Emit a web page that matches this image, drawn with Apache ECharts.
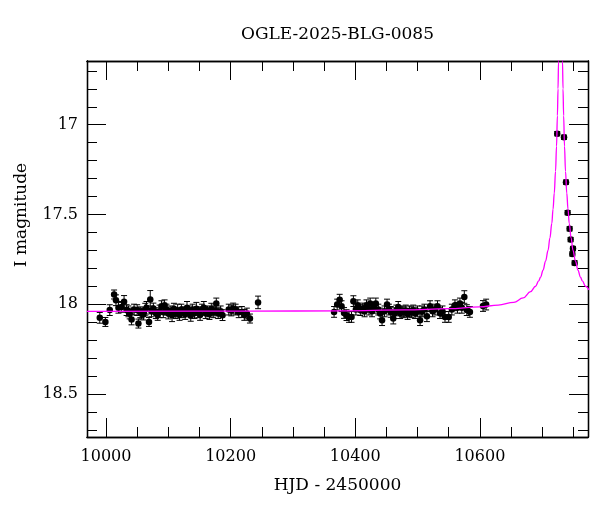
<!DOCTYPE html>
<html>
<head>
<meta charset="utf-8">
<script src="https://cdn.jsdelivr.net/npm/echarts@6/dist/echarts.min.js"></script>
<style>html,body{margin:0;padding:0;background:#fff}#c{width:600px;height:512px}</style>
</head>
<body>
<div id="c"></div>
<script>
// ---- data ----
const titleText = 'OGLE-2025-BLG-0085';
const xAxisTitle = 'HJD - 2450000';
const yAxisTitle = 'I magnitude';

const xMajorTicks = [10000, 10200, 10400, 10600];
const xMinorTicks = [10050, 10100, 10150, 10250, 10300, 10350, 10450, 10500, 10550, 10650, 10700, 10750];
const yMajorTicks = [17, 17.5, 18, 18.5];
const yMinorTicks = [16.7, 16.8, 16.9, 17.1, 17.2, 17.3, 17.4, 17.6, 17.7, 17.8, 17.9, 18.1, 18.2, 18.3, 18.4, 18.6, 18.7];

const obsTime = [
  9990, 9999, 10006, 10013, 10016, 10020, 10025, 10029, 10033, 10036,
  10038, 10041, 10045, 10050, 10052, 10055, 10057, 10060, 10063, 10065,
  10069, 10071, 10073, 10076, 10080, 10083, 10086, 10089, 10092, 10094,
  10097, 10100, 10103, 10106, 10109, 10112, 10115, 10118, 10121, 10124,
  10127, 10130, 10133, 10136, 10139, 10142, 10145, 10148, 10151, 10154,
  10157, 10160, 10163, 10166, 10169, 10172, 10175, 10177, 10180, 10184,
  10187, 10197, 10201, 10204, 10208, 10213, 10218, 10222, 10226, 10231,
  10244,
  10366, 10371, 10375, 10378, 10382, 10386, 10390, 10394, 10397, 10401,
  10404, 10408, 10412, 10415, 10418, 10422, 10424, 10427, 10430, 10433,
  10437, 10440, 10443, 10447, 10451, 10454, 10457, 10461, 10463, 10466,
  10469, 10472, 10475, 10478, 10481, 10484, 10487, 10490, 10493, 10496,
  10500, 10504, 10507, 10511, 10515, 10520, 10524, 10528, 10532, 10536,
  10540, 10544, 10550, 10555, 10560, 10564, 10568, 10571, 10575, 10579,
  10584, 10605, 10610,
  10724.1, 10735, 10738.2, 10740.8, 10744, 10745.6, 10748.3, 10749.4, 10752
];
const obsMag = [
  18.076, 18.099, 18.033, 17.946, 17.978, 18.020, 18.015, 17.987, 18.033, 18.040,
  18.052, 18.085, 18.030, 18.033, 18.108, 18.045, 18.052, 18.058, 18.030, 18.020,
  18.099, 17.974, 18.040, 18.024, 18.050, 18.060, 18.040, 18.011, 18.045, 18.006,
  18.030, 18.052, 18.040, 18.062, 18.025, 18.050, 18.035, 18.060, 18.030, 18.045,
  18.055, 18.020, 18.040, 18.065, 18.030, 18.050, 18.025, 18.045, 18.060, 18.030,
  18.020, 18.050, 18.040, 18.055, 18.025, 18.045, 18.035, 17.996, 18.050, 18.040,
  18.061, 18.030, 18.035, 18.024, 18.030, 18.045, 18.043, 18.060, 18.052, 18.080,
  17.990,
  18.043, 18.002, 17.975, 18.011, 18.049, 18.061, 18.071, 18.071, 17.983, 18.030,
  18.006, 18.033, 18.024, 18.040, 18.006, 18.030, 17.996, 18.040, 18.020, 17.996,
  18.030, 18.052, 18.089, 18.040, 18.002, 18.030, 18.043, 18.080, 18.050, 18.035,
  18.015, 18.050, 18.040, 18.045, 18.035, 18.055, 18.040, 18.045, 18.035, 18.050,
  18.040, 18.089, 18.040, 18.030, 18.067, 18.011, 18.040, 18.030, 18.011, 18.050,
  18.040, 18.071, 18.071, 18.030, 18.006, 18.020, 17.996, 18.020, 17.960, 18.033,
  18.043, 18.010, 18.002,
  17.050, 17.070, 17.320, 17.490, 17.580, 17.640, 17.720, 17.690, 17.770
];
const obsErr = [
  0.030, 0.025, 0.030, 0.025, 0.030, 0.030, 0.030, 0.035, 0.030, 0.030,
  0.030, 0.030, 0.030, 0.030, 0.025, 0.030, 0.030, 0.030, 0.035, 0.035,
  0.025, 0.050, 0.030, 0.030, 0.030, 0.030, 0.035, 0.030, 0.030, 0.030,
  0.030, 0.030, 0.030, 0.035, 0.030, 0.030, 0.035, 0.030, 0.030, 0.030,
  0.030, 0.035, 0.030, 0.030, 0.030, 0.030, 0.035, 0.030, 0.030, 0.030,
  0.035, 0.030, 0.030, 0.030, 0.030, 0.030, 0.030, 0.030, 0.030, 0.030,
  0.030, 0.030, 0.030, 0.030, 0.030, 0.030, 0.030, 0.030, 0.030, 0.025,
  0.035,
  0.030, 0.030, 0.030, 0.030, 0.030, 0.030, 0.030, 0.030, 0.030, 0.030,
  0.030, 0.030, 0.030, 0.030, 0.030, 0.030, 0.030, 0.030, 0.030, 0.030,
  0.030, 0.030, 0.030, 0.030, 0.030, 0.030, 0.030, 0.030, 0.030, 0.030,
  0.030, 0.030, 0.030, 0.030, 0.030, 0.030, 0.030, 0.030, 0.030, 0.030,
  0.030, 0.030, 0.030, 0.030, 0.030, 0.030, 0.030, 0.030, 0.030, 0.030,
  0.030, 0.030, 0.030, 0.030, 0.030, 0.030, 0.030, 0.030, 0.035, 0.030,
  0.030, 0.030, 0.030,
  0.012, 0.012, 0.012, 0.012, 0.012, 0.012, 0.012, 0.012, 0.012
];

const modelTime = [
  9969.4, 10229.4, 10379.4, 10479.4, 10549.4, 10599.4, 10629.4, 10654.4, 10669.4, 10681.4,
  10689.4, 10694.4, 10697.4, 10701.4, 10705.4, 10709.4, 10712.4, 10715.4, 10717.4, 10719.4,
  10721.4, 10723.0, 10724.4, 10725.4, 10726.2, 10727.4, 10728.4, 10729.4, 10730.4, 10731.4,
  10732.6, 10733.4, 10734.4, 10735.8, 10737.4, 10739.4, 10741.4, 10743.4, 10746.4, 10749.4,
  10753.4, 10757.4, 10761.4, 10764.4, 10769.4, 10775.0
];
const modelMag = [
  18.040, 18.039, 18.037, 18.032, 18.025, 18.015, 18.005, 17.990, 17.965, 17.930,
  17.900, 17.870, 17.850, 17.810, 17.760, 17.700, 17.630, 17.550, 17.470, 17.380,
  17.260, 17.120, 16.950, 16.800, 16.650, 16.300, 15.850, 15.500, 15.850, 16.300,
  16.650, 16.800, 16.950, 17.120, 17.260, 17.380, 17.470, 17.550, 17.630, 17.700,
  17.760, 17.810, 17.850, 17.870, 17.900, 17.920
];

const xMin = 9969.5, xMax = 10773.5;
const yMin = 16.645, yMax = 18.74;

// ---- chart ----
const FONT = 'DejaVu Serif';
const chart = echarts.init(document.getElementById('c'), null, {renderer: 'canvas'});

const gridBox = {left: 87, right: 12, top: 61, bottom: 75};

function xAx(gridIndex, position, ticks, len, labels) {
  return {
    type: 'value', gridIndex, position, min: xMin, max: xMax,
    axisLine: {show: true, onZero: false, lineStyle: {color: '#000', width: 1.3}},
    axisTick: {show: true, inside: true, length: len, customValues: ticks, lineStyle: {color: '#000', width: 1}},
    axisLabel: labels ? {show: true, customValues: ticks, margin: 12, color: '#000', fontFamily: FONT, fontSize: 16,
      formatter: function (v) { return String(v); }} : {show: false},
    splitLine: {show: false}, minorTick: {show: false}
  };
}
function yAx(gridIndex, position, ticks, len, labels) {
  return {
    type: 'value', gridIndex, position, min: yMin, max: yMax, inverse: true,
    axisLine: {show: true, onZero: false, lineStyle: {color: '#000', width: 1.3}},
    axisTick: {show: true, inside: true, length: len, customValues: ticks, lineStyle: {color: '#000', width: 1}},
    axisLabel: labels ? {show: true, customValues: ticks, margin: 9, color: '#000', fontFamily: FONT, fontSize: 16,
      formatter: function (v) { return String(v); }} : {show: false},
    splitLine: {show: false}, minorTick: {show: false}
  };
}

const errData = obsTime.map((t, i) => [t, obsMag[i] - obsErr[i], obsMag[i] + obsErr[i]]);
const ptData = obsTime.map((t, i) => [t, obsMag[i]]);
const modelData = modelTime.map((t, i) => [t, modelMag[i]]);

chart.setOption({
  animation: false,
  backgroundColor: '#fff',
  grid: [Object.assign({}, gridBox), Object.assign({}, gridBox)],
  xAxis: [
    xAx(0, 'bottom', xMajorTicks, 19, true),
    xAx(0, 'top', xMajorTicks, 19, false),
    xAx(1, 'bottom', xMinorTicks, 10, false),
    xAx(1, 'top', xMinorTicks, 10, false)
  ],
  yAxis: [
    yAx(0, 'left', yMajorTicks, 19, true),
    yAx(0, 'right', yMajorTicks, 19, false),
    yAx(1, 'left', yMinorTicks, 10, false),
    yAx(1, 'right', yMinorTicks, 10, false)
  ],
  graphic: [
    {type: 'text', x: 337.5, y: 35, style: {text: titleText, font: '17px "DejaVu Serif"', fill: '#000', textAlign: 'center', textVerticalAlign: 'middle'}},
    {type: 'text', x: 337.5, y: 486, style: {text: xAxisTitle, font: '17px "DejaVu Serif"', fill: '#000', textAlign: 'center', textVerticalAlign: 'middle'}},
    {type: 'text', x: 22, y: 215, rotation: Math.PI / 2, style: {text: yAxisTitle, font: '17px "DejaVu Serif"', fill: '#000', textAlign: 'center', textVerticalAlign: 'middle'}}
  ],
  series: [
    {
      type: 'custom', xAxisIndex: 0, yAxisIndex: 0, z: 2,
      data: errData,
      encode: {x: 0, y: [1, 2]},
      renderItem: function (params, api) {
        const x = api.value(0);
        const p1 = api.coord([x, api.value(1)]);
        const p2 = api.coord([x, api.value(2)]);
        const w = 3;
        const st = {stroke: '#000', lineWidth: 1};
        return {type: 'group', children: [
          {type: 'line', shape: {x1: p1[0], y1: p1[1], x2: p2[0], y2: p2[1]}, style: st},
          {type: 'line', shape: {x1: p1[0] - w, y1: p1[1], x2: p1[0] + w, y2: p1[1]}, style: st},
          {type: 'line', shape: {x1: p2[0] - w, y1: p2[1], x2: p2[0] + w, y2: p2[1]}, style: st}
        ]};
      }
    },
    {
      type: 'scatter', xAxisIndex: 0, yAxisIndex: 0, z: 3,
      data: ptData, symbol: 'circle', symbolSize: 6.5,
      itemStyle: {color: '#000', opacity: 1}
    },
    {
      type: 'line', xAxisIndex: 0, yAxisIndex: 0, z: 4,
      data: modelData, showSymbol: false, symbol: 'none', clip: true,
      smooth: 0.4, smoothMonotone: 'x',
      lineStyle: {color: '#ff00ff', width: 1.3}
    }
  ]
});
</script>
</body>
</html>
